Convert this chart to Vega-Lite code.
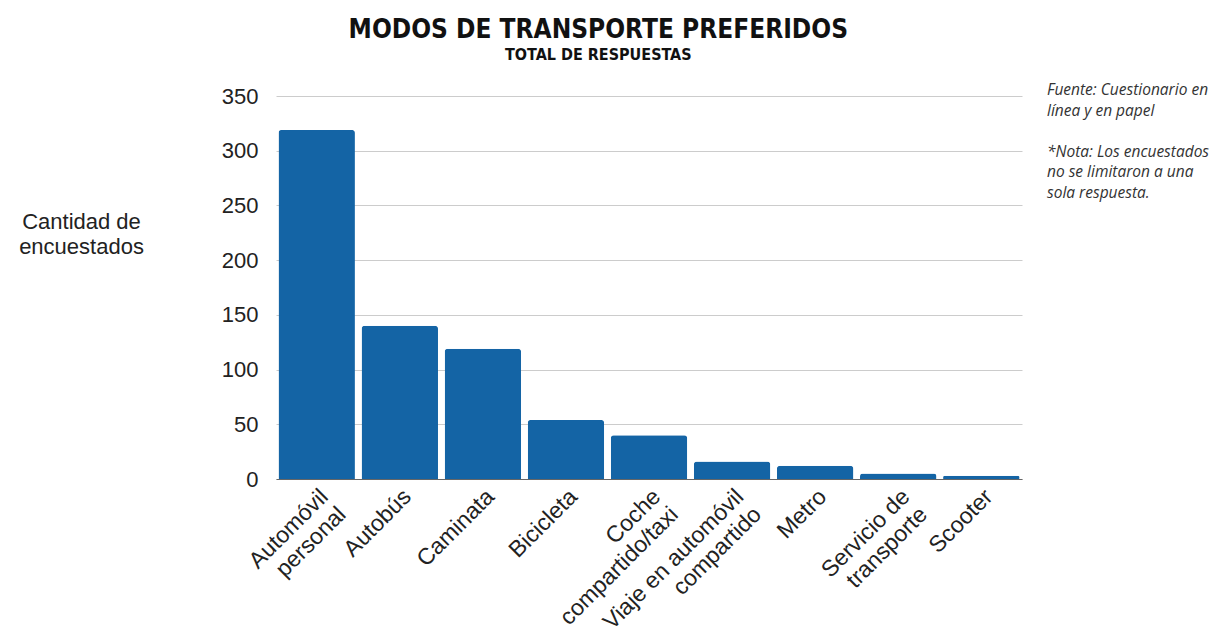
{
  "$schema": "https://vega.github.io/schema/vega-lite/v6.json",
  "background": "white",
  "padding": {"left": 18, "top": 17, "right": 5, "bottom": 5},
  "title": {
    "text": "MODOS DE TRANSPORTE PREFERIDOS",
    "subtitle": "TOTAL DE RESPUESTAS",
    "anchor": "middle",
    "dx": -22,
    "font": "Liberation Sans Narrow, DejaVu Sans Condensed, sans-serif",
    "fontSize": 26,
    "fontWeight": "bold",
    "color": "#111111",
    "subtitleFont": "Liberation Sans Narrow, DejaVu Sans Condensed, sans-serif",
    "subtitleFontSize": 16,
    "subtitleFontWeight": "bold",
    "subtitleColor": "#111111",
    "subtitlePadding": 4,
    "offset": 20
  },
  "spacing": 25,
  "hconcat": [
    {
      "width": 746,
      "height": 383,
      "data": {
        "values": [
          {"modo": "Automóvil|personal", "respuestas": 319},
          {"modo": "Autobús", "respuestas": 140},
          {"modo": "Caminata", "respuestas": 119},
          {"modo": "Bicicleta", "respuestas": 54},
          {"modo": "Coche|compartido/taxi", "respuestas": 40},
          {"modo": "Viaje en automóvil|compartido", "respuestas": 16},
          {"modo": "Metro", "respuestas": 12},
          {"modo": "Servicio de|transporte", "respuestas": 5},
          {"modo": "Scooter", "respuestas": 3}
        ]
      },
      "mark": {"type": "bar", "color": "#1464a5", "cornerRadiusTopLeft": 3, "cornerRadiusTopRight": 3},
      "encoding": {
        "x": {
          "field": "modo",
          "type": "nominal",
          "sort": null,
          "scale": {"paddingInner": 0.08, "paddingOuter": 0.03},
          "axis": {
            "title": null,
            "labelAngle": -45,
            "labelAlign": "right",
            "labelBaseline": "top",
            "labelFont": "Liberation Sans",
            "labelFontSize": 23,
            "labelColor": "#222222",
            "labelExpr": "split(datum.label, '|')",
            "labelLimit": 400,
            "labelLineHeight": 25,
            "labelPadding": 6,
            "ticks": false,
            "domainColor": "#666666"
          }
        },
        "y": {
          "field": "respuestas",
          "type": "quantitative",
          "scale": {"domain": [0, 350]},
          "axis": {
            "values": [0, 50, 100, 150, 200, 250, 300, 350],
            "title": ["Cantidad de", "encuestados"],
            "titleAngle": 0,
            "titleFont": "Liberation Sans",
            "titleFontSize": 22,
            "titleFontWeight": "normal",
            "titleColor": "#222222",
            "titleAlign": "center",
            "titleBaseline": "top",
            "titleLineHeight": 25,
            "titleX": -195,
            "titleY": 115,
            "domain": false,
            "ticks": false,
            "labelFont": "Liberation Sans",
            "labelFontSize": 22,
            "labelColor": "#222222",
            "labelPadding": 18,
            "gridColor": "#cccccc"
          }
        }
      }
    },
    {
      "width": 175,
      "height": 123,
      "data": {
        "values": [
          {"linea": 1, "texto": "Fuente: Cuestionario en"},
          {"linea": 2, "texto": "línea y en papel"},
          {"linea": 4, "texto": "*Nota: Los encuestados"},
          {"linea": 5, "texto": "no se limitaron a una"},
          {"linea": 6, "texto": "sola respuesta."}
        ]
      },
      "mark": {"type": "text", "align": "left", "baseline": "middle", "dy": -16, "font": "Open Sans", "fontStyle": "italic", "fontSize": 15.5, "color": "#333333"},
      "encoding": {
        "x": {"datum": 0, "type": "quantitative", "scale": {"domain": [0, 1]}, "axis": null},
        "y": {"field": "linea", "type": "ordinal", "scale": {"domain": [1, 2, 3, 4, 5, 6], "paddingInner": 0, "paddingOuter": 0}, "axis": null},
        "text": {"field": "texto"}
      }
    }
  ],
  "config": {"view": {"stroke": null}}
}
